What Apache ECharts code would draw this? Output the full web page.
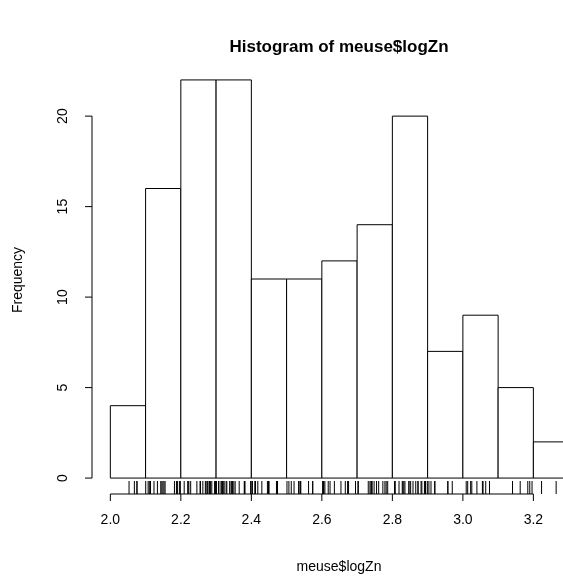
<!DOCTYPE html>
<html>
<head>
<meta charset="utf-8">
<script src="https://cdn.jsdelivr.net/npm/echarts@6/dist/echarts.min.js"></script>
<style>
  html, body { margin: 0; padding: 0; background: #fff; }
  #chart { width: 563px; height: 579px; }
</style>
</head>
<body>
<div id="chart"></div>
<script>
// meuse$zinc (ppm), rug shows log10 of these
const zinc = [
  1022, 1141, 640, 257, 269, 281, 346, 406, 347, 183,
  189, 251, 1096, 504, 326, 1032, 606, 711, 735, 1052,
  673, 402, 343, 218, 200, 194, 207, 180, 240, 180,
  208, 198, 250, 192, 213, 321, 569, 833, 906, 1454,
  298, 167, 176, 258, 746, 746, 464, 365, 282, 375,
  222, 812, 1548, 1839, 1528, 933, 432, 550, 1571, 1190,
  907, 761, 659, 643, 801, 784, 1060, 119, 778, 703,
  676, 793, 685, 593, 549, 680, 539, 560, 1136, 1383,
  1161, 1672, 765, 279, 241, 317, 545, 505, 420, 332,
  400, 553, 577, 155, 224, 180, 226, 186, 198, 187,
  199, 157, 203, 143, 136, 117, 113, 130, 192, 240,
  221, 140, 128, 166, 191, 232, 203, 722, 210, 198,
  139, 253, 703, 832, 262, 142, 119, 152, 415, 474,
  126, 210, 220, 133, 141, 158, 129, 206, 451, 296,
  189, 154, 169, 403, 471, 612, 601, 783, 258, 214,
  166, 496, 342, 162, 375
];
const logZn = zinc.map(Math.log10);

// histogram bins and counts
const breaks = [2.0, 2.1, 2.2, 2.3, 2.4, 2.5, 2.6, 2.7, 2.8, 2.9, 3.0, 3.1, 3.2, 3.3];
const counts = [4, 16, 22, 22, 11, 11, 12, 14, 20, 7, 9, 5, 2];

const xTicks = [2.0, 2.2, 2.4, 2.6, 2.8, 3.0, 3.2];
const yTicks = [0, 5, 10, 15, 20];

const FONT = '"Liberation Sans", Arial, sans-serif';
const X_MIN = 1.948;
const Y_MIN = -0.88;
const TICK = 7;

const chart = echarts.init(document.getElementById('chart'), null, { renderer: 'canvas' });

const barData = counts.map((c, i) => [breaks[i], breaks[i + 1], c]);

const black = { stroke: '#000', lineWidth: 1 };

chart.setOption({
  animation: false,
  backgroundColor: '#fff',
  grid: { left: 92, right: 0, top: 64, bottom: 85 },
  xAxis: {
    type: 'value',
    min: X_MIN,
    max: 3.284,
    axisLine: { show: false },
    splitLine: { show: false },
    axisTick: { show: false },
    axisLabel: {
      customValues: xTicks,
      formatter: v => v.toFixed(1),
      margin: 19,
      color: '#000',
      fontSize: 14,
      fontFamily: FONT
    }
  },
  yAxis: {
    type: 'value',
    min: Y_MIN,
    max: 22.88,
    axisLine: { show: false },
    splitLine: { show: false },
    axisTick: { show: false },
    axisLabel: {
      customValues: yTicks,
      rotate: 90,
      margin: 22,
      color: '#000',
      fontSize: 14,
      fontFamily: FONT
    }
  },
  graphic: [
    {
      type: 'text', x: 339, y: 47,
      style: { text: 'Histogram of meuse$logZn', font: 'bold 17px ' + FONT, fill: '#000', align: 'center', verticalAlign: 'middle' }
    },
    {
      type: 'text', x: 339, y: 567,
      style: { text: 'meuse$logZn', font: '14px ' + FONT, fill: '#000', align: 'center', verticalAlign: 'middle' }
    },
    {
      type: 'text', x: 18, y: 280, rotation: Math.PI / 2,
      style: { text: 'Frequency', font: '14px ' + FONT, fill: '#000', align: 'center', verticalAlign: 'middle' }
    }
  ],
  series: [
    {
      type: 'custom',
      name: 'hist',
      clip: true,
      data: barData,
      encode: { x: [0, 1], y: 2 },
      renderItem: (params, api) => {
        const p0 = api.coord([api.value(0), api.value(2)]);
        const p1 = api.coord([api.value(1), 0]);
        return {
          type: 'rect',
          shape: { x: p0[0], y: p0[1], width: p1[0] - p0[0], height: p1[1] - p0[1] },
          style: { fill: '#fff', stroke: '#000', lineWidth: 1 }
        };
      }
    },
    {
      type: 'custom',
      name: 'rug',
      data: logZn.map(v => [v]),
      encode: { x: 0 },
      renderItem: (params, api) => {
        const p = api.coord([api.value(0), Y_MIN]);
        return {
          type: 'line',
          shape: { x1: p[0], y1: p[1], x2: p[0], y2: p[1] - 13 },
          style: { stroke: '#000', lineWidth: 1 }
        };
      }
    },
    {
      // R-style axes: line spans first to last tick, ticks point outward
      type: 'custom',
      name: 'axes',
      clip: false,
      data: [[0]],
      renderItem: (params, api) => {
        const children = [];
        const xa = api.coord([xTicks[0], Y_MIN]);
        const xb = api.coord([xTicks[xTicks.length - 1], Y_MIN]);
        children.push({ type: 'line', shape: { x1: xa[0], y1: xa[1], x2: xb[0], y2: xb[1] }, style: black });
        xTicks.forEach(t => {
          const p = api.coord([t, Y_MIN]);
          children.push({ type: 'line', shape: { x1: p[0], y1: p[1], x2: p[0], y2: p[1] + TICK }, style: black });
        });
        const ya = api.coord([X_MIN, yTicks[0]]);
        const yb = api.coord([X_MIN, yTicks[yTicks.length - 1]]);
        children.push({ type: 'line', shape: { x1: ya[0], y1: ya[1], x2: yb[0], y2: yb[1] }, style: black });
        yTicks.forEach(t => {
          const p = api.coord([X_MIN, t]);
          children.push({ type: 'line', shape: { x1: p[0], y1: p[1], x2: p[0] - TICK, y2: p[1] }, style: black });
        });
        return { type: 'group', children };
      }
    }
  ]
});
</script>
</body>
</html>
